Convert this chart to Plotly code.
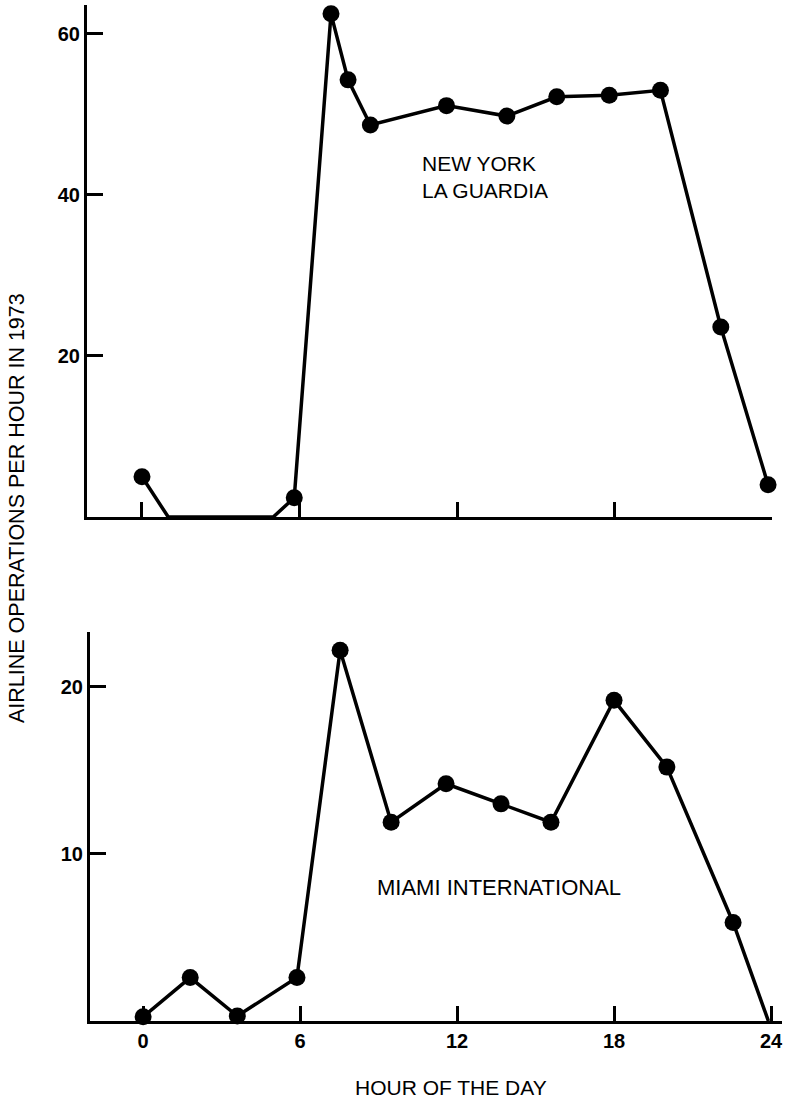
import plotly.graph_objects as go

# ---------------- data ----------------
ny_hours = [0, 1, 2, 3, 4, 5, 5.8, 7.2, 7.85, 8.7, 11.6, 13.9, 15.8, 17.8, 19.75, 22.05, 23.85]
ny_ops = [5.0, 0, 0, 0, 0, 0, 2.4, 62.5, 54.3, 48.7, 51.1, 49.8, 52.2, 52.4, 53.0, 23.6, 4.0]

miami_hours = [0, 1.8, 3.6, 5.88, 7.53, 9.48, 11.58, 13.68, 15.59, 18.0, 20.02, 22.55, 23.9]
miami_ops = [0.25, 2.6, 0.3, 2.6, 22.2, 11.9, 14.2, 13.0, 11.9, 19.2, 15.2, 5.9, 0]

hour_ticks = [0, 6, 12, 18, 24]
ny_yticks = [20, 40, 60]
miami_yticks = [10, 20]

ny_label = "NEW YORK<br>LA GUARDIA"
miami_label = "MIAMI INTERNATIONAL"
y_title = "AIRLINE OPERATIONS PER HOUR IN 1973"
x_title = "HOUR OF THE DAY"

# ---------------- figure ----------------
W, H = 786, 1100
FONT = "Liberation Sans, Arial, Helvetica, sans-serif"


def fx(p):
    return p / W


def fy(p):
    return 1 - p / H


ny_sizes = [17 if v > 0 else 0 for v in ny_ops]
mi_sizes = [17 if v > 0 else 0 for v in miami_ops]

fig = go.Figure()
fig.add_trace(go.Scatter(
    x=ny_hours, y=ny_ops, mode="lines+markers",
    line=dict(color="black", width=3.5),
    marker=dict(size=ny_sizes, color="black", opacity=1, line=dict(width=0)),
    xaxis="x", yaxis="y", cliponaxis=False, showlegend=False,
))
fig.add_trace(go.Scatter(
    x=miami_hours, y=miami_ops, mode="lines+markers",
    line=dict(color="black", width=3.5),
    marker=dict(size=mi_sizes, color="black", opacity=1, line=dict(width=0)),
    xaxis="x2", yaxis="y2", cliponaxis=False, showlegend=False,
))

axis_common = dict(
    showline=True, linewidth=3, linecolor="black", mirror=False,
    ticks="inside", tickwidth=2.5, tickcolor="black",
    showgrid=False, zeroline=False,
    tickfont=dict(family=FONT, size=20, color="black", weight="bold"),
)

fig.update_layout(
    width=W, height=H,
    margin=dict(l=0, r=0, t=0, b=0),
    paper_bgcolor="white", plot_bgcolor="white",
    xaxis=dict(domain=[fx(87), fx(772)], range=[-2.095, 24.0], anchor="y",
               tickvals=hour_ticks, ticklen=15, showticklabels=False, **axis_common),
    yaxis=dict(domain=[fy(517), fy(5)], range=[0, 63.6], anchor="x",
               tickvals=ny_yticks, ticklen=16, **axis_common),
    xaxis2=dict(domain=[fx(90), fx(782)], range=[-2.03, 24.42], anchor="y2",
                tickvals=hour_ticks, ticklen=15, **axis_common),
    yaxis2=dict(domain=[fy(1021), fy(632)], range=[0, 23.29], anchor="x2",
                tickvals=miami_yticks, ticklen=16, **axis_common),
    annotations=[
        dict(text=ny_label, x=10.59, y=42.2, xref="x", yref="y",
             xanchor="left", yanchor="middle", align="left", showarrow=False,
             font=dict(family=FONT, size=21, color="black")),
        dict(text=miami_label, x=8.87, y=8.0, xref="x2", yref="y2",
             xanchor="left", yanchor="middle", align="left", showarrow=False,
             font=dict(family=FONT, size=22, color="black")),
        dict(text=y_title, x=fx(17), y=fy(508), xref="paper", yref="paper",
             textangle=-90, xanchor="center", yanchor="middle", showarrow=False,
             font=dict(family=FONT, size=21.5, color="black")),
        dict(text=x_title, x=fx(451), y=fy(1087), xref="paper", yref="paper",
             xanchor="center", yanchor="middle", showarrow=False,
             font=dict(family=FONT, size=21, color="black")),
    ],
)

fig.write_html("out.html")
